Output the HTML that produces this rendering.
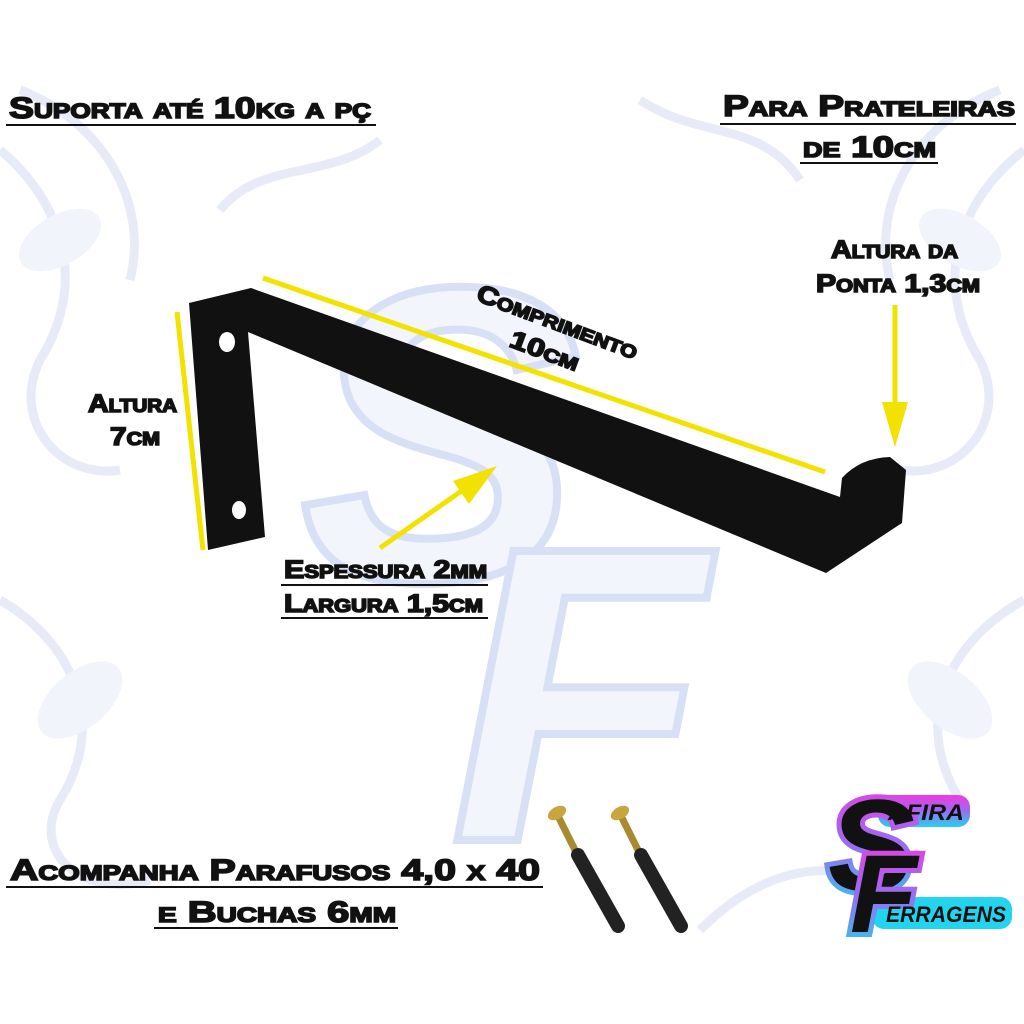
<!DOCTYPE html>
<html><head><meta charset="utf-8"><style>
html,body{margin:0;padding:0;background:#fff;}
svg{display:block;}
.t{font-family:"Liberation Sans",sans-serif;font-weight:bold;font-variant:small-caps;fill:#111;stroke:#111;stroke-width:1.6;}
</style></head><body>
<svg width="1024" height="1024" viewBox="0 0 1024 1024" xmlns="http://www.w3.org/2000/svg">
<defs>
<linearGradient id="lg" x1="0" y1="0" x2="0" y2="1">
<stop offset="0" stop-color="#f03ae0"/><stop offset="0.5" stop-color="#9a6cf0"/><stop offset="1" stop-color="#22d4ee"/>
</linearGradient>
</defs>
<rect width="1024" height="1024" fill="#fff"/>
<!-- faint floral background -->
<g fill="none" stroke="#e6ebf7" stroke-width="9">
<path d="M0 150 C60 200 90 280 40 360 C10 420 60 480 120 470"/>
<path d="M20 90 C100 120 150 200 130 280"/>
<path d="M1024 150 C960 200 930 280 980 360 C1010 420 960 480 900 470"/>
<path d="M1000 90 C920 120 870 200 890 280"/>
<path d="M0 600 C70 640 110 720 60 800 C30 850 80 900 150 880"/>
<path d="M1024 600 C950 640 910 720 960 800"/>
<path d="M640 100 C700 140 760 120 800 180"/>
<path d="M380 140 C330 180 260 160 220 210"/>
<path d="M700 930 C760 870 820 860 880 880"/>
</g>
<g fill="#f1f4fb">
<ellipse cx="60" cy="240" rx="45" ry="25" transform="rotate(-30 60 240)"/>
<ellipse cx="960" cy="240" rx="45" ry="25" transform="rotate(30 960 240)"/>
<ellipse cx="80" cy="700" rx="50" ry="28" transform="rotate(-40 80 700)"/>
<ellipse cx="950" cy="700" rx="50" ry="28" transform="rotate(40 950 700)"/>
</g>
<!-- SF watermark -->
<text x="300" y="580" font-family="Liberation Sans,sans-serif" font-weight="bold" font-style="italic" font-size="420" fill="#f3f5fd" stroke="#d8e0f6" stroke-width="8">S</text>
<text x="450" y="840" font-family="Liberation Sans,sans-serif" font-weight="bold" font-style="italic" font-size="420" fill="#f3f5fd" stroke="#d8e0f6" stroke-width="8">F</text>
<!-- bracket -->
<path d="M189,303 L251,288 L840,497 L842,478 Q860,458 890,457 L906,470 L902,523 L826,573 L248,332 L265,537 L208,550 Z" fill="#111"/>
<ellipse cx="227" cy="342" rx="8" ry="10" fill="#fff"/>
<ellipse cx="239" cy="510" rx="7" ry="9" fill="#fff"/>
<!-- yellow lines -->
<g stroke="#f3e100" stroke-width="5" fill="none">
<line x1="177" y1="312" x2="203" y2="550"/>
<line x1="263" y1="278" x2="825" y2="472"/>
<line x1="380" y1="548" x2="470" y2="485"/>
<line x1="895" y1="305" x2="895" y2="420"/>
</g>
<polygon points="497,466 453,481 469,504" fill="#f3e100"/>
<polygon points="895,447 882,402 908,402" fill="#f3e100"/>
<!-- texts -->
<text class="t" x="9" y="118" font-size="30" textLength="362" lengthAdjust="spacingAndGlyphs">Suporta até 10kg a pç</text>
<line x1="6" y1="125" x2="376" y2="125" stroke="#111" stroke-width="2"/>
<text class="t" x="723" y="116" font-size="30" textLength="292" lengthAdjust="spacingAndGlyphs">Para Prateleiras</text>
<line x1="720" y1="124" x2="1016" y2="124" stroke="#111" stroke-width="2"/>
<text class="t" x="803" y="157" font-size="30" textLength="133" lengthAdjust="spacingAndGlyphs">de 10cm</text>
<line x1="800" y1="163" x2="938" y2="163" stroke="#111" stroke-width="2"/>
<text class="t" x="831" y="258" font-size="25" textLength="127" lengthAdjust="spacingAndGlyphs">Altura da</text>
<text class="t" x="816" y="292" font-size="25" textLength="164" lengthAdjust="spacingAndGlyphs">Ponta 1,3cm</text>
<text class="t" x="475" y="300" font-size="25" transform="rotate(20.5 475 300)" textLength="170" lengthAdjust="spacingAndGlyphs">Comprimento</text>
<text class="t" x="508" y="346" font-size="25" transform="rotate(20.5 508 346)" textLength="72" lengthAdjust="spacingAndGlyphs">10cm</text>
<text class="t" x="88" y="412" font-size="25" textLength="89" lengthAdjust="spacingAndGlyphs">Altura</text>
<text class="t" x="110" y="445" font-size="25" textLength="50" lengthAdjust="spacingAndGlyphs">7cm</text>
<text class="t" x="284" y="578" font-size="25" textLength="203" lengthAdjust="spacingAndGlyphs">Espessura 2mm</text>
<line x1="281" y1="585" x2="488" y2="585" stroke="#111" stroke-width="2"/>
<text class="t" x="284" y="612" font-size="25" textLength="199" lengthAdjust="spacingAndGlyphs">Largura 1,5cm</text>
<line x1="281" y1="618" x2="488" y2="618" stroke="#111" stroke-width="2"/>
<text class="t" x="10" y="880" font-size="30" textLength="530" lengthAdjust="spacingAndGlyphs">Acompanha Parafusos 4,0 x 40</text>
<line x1="6" y1="887" x2="543" y2="887" stroke="#111" stroke-width="2"/>
<text class="t" x="158" y="922" font-size="30" textLength="238" lengthAdjust="spacingAndGlyphs">e Buchas 6mm</text>
<line x1="154" y1="928" x2="398" y2="928" stroke="#111" stroke-width="2"/>
<!-- screws -->
<g>
<line x1="557" y1="814" x2="580" y2="860" stroke="#a88a30" stroke-width="7"/>
<ellipse cx="557" cy="813" rx="10" ry="6" fill="#c7a640" transform="rotate(-30 557 813)"/>
<line x1="578" y1="855" x2="618" y2="926" stroke="#222" stroke-width="14" stroke-linecap="round"/>
<line x1="620" y1="814" x2="643" y2="860" stroke="#a88a30" stroke-width="7"/>
<ellipse cx="620" cy="813" rx="10" ry="6" fill="#c7a640" transform="rotate(-30 620 813)"/>
<line x1="641" y1="855" x2="681" y2="926" stroke="#222" stroke-width="14" stroke-linecap="round"/>
</g>
<!-- logo -->
<g font-family="Liberation Sans,sans-serif" font-weight="bold" font-style="italic">
<rect x="878" y="795" width="92" height="32" rx="12" fill="url(#lg)"/>
<rect x="872" y="897" width="140" height="32" rx="12" fill="#22d4ee"/>
<text x="828" y="890" font-size="130" fill="#111" stroke="url(#lg)" stroke-width="10" paint-order="stroke">S</text>
<text x="850" y="932" font-size="110" fill="#111" stroke="url(#lg)" stroke-width="10" paint-order="stroke">F</text>
<text x="888" y="820" font-size="22" fill="#111" textLength="76" lengthAdjust="spacingAndGlyphs">AFIRA</text>
<text x="886" y="922" font-size="22" fill="#111" textLength="120" lengthAdjust="spacingAndGlyphs">ERRAGENS</text>
</g>
</svg>
</body></html>
